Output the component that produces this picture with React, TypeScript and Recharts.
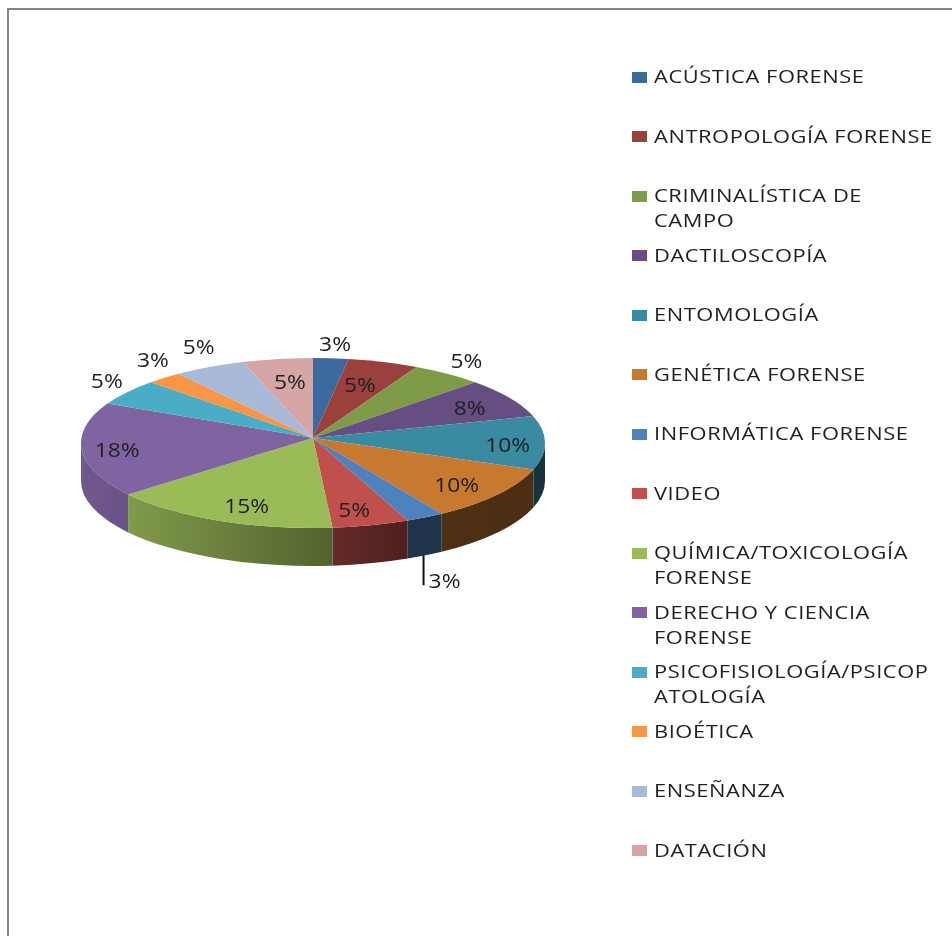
import React from 'react';
import { PieChart, Pie, Legend } from 'recharts';

const CATEGORIES = [
  'ACÚSTICA FORENSE', 'ANTROPOLOGÍA FORENSE', 'CRIMINALÍSTICA DE\nCAMPO', 'DACTILOSCOPÍA',
  'ENTOMOLOGÍA', 'GENÉTICA FORENSE', 'INFORMÁTICA FORENSE', 'VIDEO',
  'QUÍMICA/TOXICOLOGÍA\nFORENSE', 'DERECHO Y CIENCIA\nFORENSE', 'PSICOFISIOLOGÍA/PSICOP\nATOLOGÍA',
  'BIOÉTICA', 'ENSEÑANZA', 'DATACIÓN',
];

// counts behind the rounded percentages on the slices
const COUNTS = [1, 2, 2, 3, 4, 4, 1, 2, 6, 7, 2, 1, 2, 2];

const COLORS = [
  '#3B6A9E', '#9A403D', '#7E9B47', '#664E82', '#3A8AA1', '#C6792F', '#4F81BD',
  '#C0504D', '#9BBB59', '#8064A2', '#4BACC6', '#F79646', '#A9B9D8', '#D6A6A6',
];

// label position per slice, as a factor of the rim radius [x, y]
const LABEL_FACTORS = [
  [1.18, 1.12], [0.64, 0.67], [1.1, 1.14], [0.78, 0.73], [0.84, 1.8], [0.8, 0.86], [1.22, 1.89],
  [0.74, 0.86], [0.73, 0.86], [0.85, 1.05], [1.08, 1.2], [1.04, 1.24], [1.06, 1.22], [0.62, 0.68],
];

// wall lighting from left to right of the pie
const WALL_SHADE = [
  [0, 0.88], [0.1, 0.83], [0.55, 0.52], [0.7, 0.4], [1, 0.38],
];

const chartData = CATEGORIES.map((name, i) => ({ name, value: COUNTS[i], fill: COLORS[i] }));

const FONT = '"Open Sans", sans-serif';
const RY_RATIO = 85 / 232;
const TILT = 5; // rim centre sits a little below the apex
const DEPTH = 38;
const PERSPECTIVE = 0.045; // near edge spreads out, far edge bunches up
const RAD = Math.PI / 180;

const shade = (hex: string, f: number) => {
  const n = parseInt(hex.slice(1), 16);
  const c = [(n >> 16) & 255, (n >> 8) & 255, n & 255].map((v) => Math.round(v * f));
  return `rgb(${c[0]},${c[1]},${c[2]})`;
};

const Slice3D = (props: any) => {
  const { cx, cy, outerRadius, startAngle, endAngle, fill } = props;
  const rx = outerRadius;
  const ry = rx * RY_RATIO;
  const pt = (a: number, drop = 0) => {
    const s = Math.sin(a * RAD);
    const u = Math.max(-1, Math.min(1, Math.cos(a * RAD) * (1 - PERSPECTIVE * s)));
    const v = Math.sqrt(1 - u * u) * (Math.abs(s) < 1e-9 ? 0 : Math.sign(s));
    return `${cx + rx * u} ${cy + TILT - ry * v + drop}`;
  };
  const large = Math.abs(startAngle - endAngle) > 180 ? 1 : 0;
  const top = `M ${cx} ${cy} L ${pt(startAngle)} A ${rx} ${ry} 0 ${large} 1 ${pt(endAngle)} Z`;

  // only the front half of the rim shows a wall
  const a = Math.min(startAngle, 0);
  const b = Math.max(endAngle, -180);
  const id = `wall-${Math.round(Math.abs(startAngle) * 10)}`;

  return (
    <g>
      {a > b && (
        <>
          <defs>
            <linearGradient id={id} gradientUnits="userSpaceOnUse" x1={cx - rx} x2={cx + rx} y1={0} y2={0}>
              {WALL_SHADE.map(([o, f]) => (
                <stop key={o} offset={o} stopColor={shade(fill, f)} />
              ))}
            </linearGradient>
          </defs>
          <path
            d={`M ${pt(a)} A ${rx} ${ry} 0 0 1 ${pt(b)} L ${pt(b, DEPTH)} A ${rx} ${ry} 0 0 0 ${pt(a, DEPTH)} Z`}
            fill={`url(#${id})`}
          />
        </>
      )}
      <path d={top} fill={fill} />
    </g>
  );
};

const SliceLabel = (props: any) => {
  const { cx, cy, outerRadius, midAngle, percent, index } = props;
  const [fx, fy] = LABEL_FACTORS[index];
  const x = cx + outerRadius * fx * Math.cos(midAngle * RAD);
  const y = cy - outerRadius * RY_RATIO * fy * Math.sin(midAngle * RAD);
  return (
    <g>
      {index === 6 && <line x1={x - 21} x2={x - 21} y1={y - 25} y2={y + 5} stroke="#111" strokeWidth={2} />}
      <text
        transform={`translate(${x} ${y}) scale(1.14 1)`}
        textAnchor="middle"
        dominantBaseline="central"
        fontFamily={FONT}
        fontSize={20}
        fill="#1f1f1f"
      >
        {`${Math.round(percent * 100)}%`}
      </text>
    </g>
  );
};

const LegendList = ({ payload }: any) => (
  <div style={{ position: 'relative', width: 320, height: 936 }}>
    {(payload || []).map((item: any, i: number) => (
      <div key={i} style={{ position: 'absolute', left: 0, top: 64 + i * 59.5, width: 320 }}>
        <span style={{ position: 'absolute', left: 0, top: 7.5, width: 15, height: 11, background: item.color }} />
        <div
          style={{
            position: 'absolute',
            left: 22,
            top: 0,
            whiteSpace: 'pre',
            fontFamily: FONT,
            fontSize: 19,
            lineHeight: '25px',
            letterSpacing: 0.5,
            color: '#1f1f1f',
            transform: 'scaleX(1.15)',
            transformOrigin: 'left top',
          }}
        >
          {item.value}
        </div>
      </div>
    ))}
  </div>
);

export default function App() {
  return (
    <div style={{ position: 'absolute', left: 0, top: 0, width: 952, height: 936, overflow: 'hidden', background: '#fff' }}>
      <div
        style={{
          position: 'absolute',
          left: 7,
          top: 8,
          right: 0,
          bottom: 0,
          borderLeft: '2px solid #868686',
          borderTop: '2px solid #868686',
        }}
      />
      <div style={{ position: 'absolute', left: 0, top: 0, filter: 'blur(0.4px)' }}>
        <PieChart width={952} height={936} margin={{ top: 0, right: 0, bottom: 0, left: 0 }}>
          <Pie
            data={chartData}
            dataKey="value"
            nameKey="name"
            cx={313}
            cy={438}
            outerRadius={232}
            startAngle={90}
            endAngle={-270}
            stroke="none"
            shape={Slice3D}
            label={SliceLabel}
            labelLine={false}
            isAnimationActive={false}
          />
          <Legend
            layout="vertical"
            align="right"
            verticalAlign="top"
            itemSorter={null}
            content={LegendList}
            wrapperStyle={{ position: 'absolute', left: 632, top: 0, width: 320, height: 936 }}
          />
        </PieChart>
      </div>
    </div>
  );
}
